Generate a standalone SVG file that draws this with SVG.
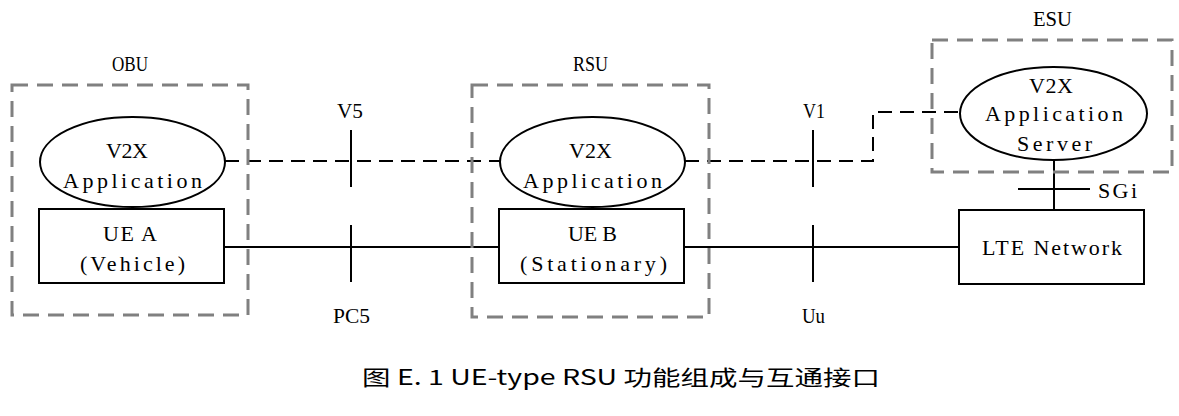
<svg xmlns="http://www.w3.org/2000/svg" width="1179" height="416" viewBox="0 0 1179 416">
<style>
.grp{fill:none;stroke:#808080;stroke-width:3;stroke-dasharray:16 9}
.sh{fill:#fff;stroke:#000;stroke-width:2}
.ln{fill:none;stroke:#000;stroke-width:2}
.dl{fill:none;stroke:#000;stroke-width:2;stroke-dasharray:14 8}
.t{font-family:"Liberation Serif","Noto Serif CJK SC",serif;font-size:22px;fill:#000}
.cap{font-family:"Noto Sans CJK SC","Noto Sans",sans-serif;font-size:21px;fill:#000}
</style>
<rect width="1179" height="416" fill="#fff"/>
<g id="connectors">
<polyline class="dl" points="225,161 500,161"/>
<polyline class="dl" points="685,161 873,161 873,112 960,112"/>
<line class="ln" x1="224" y1="247" x2="499" y2="247"/>
<line class="ln" x1="684" y1="247" x2="959" y2="247"/>
<line class="ln" x1="1054" y1="160" x2="1054" y2="210"/>
<line class="ln" x1="351" y1="130" x2="351" y2="187"/>
<line class="ln" x1="351" y1="225" x2="351" y2="282"/>
<line class="ln" x1="813" y1="130" x2="813" y2="187"/>
<line class="ln" x1="813" y1="225" x2="813" y2="282"/>
<line class="ln" x1="1018" y1="189" x2="1090" y2="189"/>
<text class="t" x="337" y="118" textLength="26" lengthAdjust="spacingAndGlyphs">V5</text>
<text class="t" x="333" y="323" textLength="37" lengthAdjust="spacingAndGlyphs">PC5</text>
<text class="t" x="803" y="118" textLength="22" lengthAdjust="spacingAndGlyphs">V1</text>
<text class="t" x="802" y="323" textLength="23" lengthAdjust="spacingAndGlyphs">Uu</text>
<text class="t" x="1098" y="198" textLength="39">SGi</text>
</g>
<g id="obu">
<rect class="grp" x="12" y="85" width="236" height="230"/>
<text class="t" x="112" y="71" textLength="36" lengthAdjust="spacingAndGlyphs">OBU</text>
</g>
<g id="obu-app">
<ellipse class="sh" cx="132.5" cy="162" rx="92.5" ry="45"/>
<text class="t" x="106" y="158" textLength="42">V2X</text>
<text class="t" x="63" y="188" textLength="139">Application</text>
</g>
<g id="ue-a">
<rect class="sh" x="39" y="209" width="185" height="74"/>
<text class="t" x="103" y="241" textLength="54">UE A</text>
<text class="t" x="80" y="271" textLength="105">(Vehicle)</text>
</g>
<g id="rsu">
<rect class="grp" x="472" y="85" width="237" height="232"/>
<text class="t" x="573" y="71" textLength="35" lengthAdjust="spacingAndGlyphs">RSU</text>
</g>
<g id="rsu-app">
<ellipse class="sh" cx="592.5" cy="162" rx="92.5" ry="45"/>
<text class="t" x="569" y="158" textLength="43">V2X</text>
<text class="t" x="523" y="188" textLength="139">Application</text>
</g>
<g id="ue-b">
<rect class="sh" x="499" y="209" width="185" height="74"/>
<text class="t" x="568" y="241" textLength="49">UE B</text>
<text class="t" x="520" y="271" textLength="147">(Stationary)</text>
</g>
<g id="esu">
<rect class="grp" x="932" y="40" width="240" height="132"/>
<text class="t" x="1033" y="26" textLength="39" lengthAdjust="spacingAndGlyphs">ESU</text>
</g>
<g id="app-server">
<ellipse class="sh" cx="1053.5" cy="113.5" rx="93.5" ry="46.5"/>
<text class="t" x="1029" y="93" textLength="44">V2X</text>
<text class="t" x="985" y="121" textLength="138">Application</text>
<text class="t" x="1017" y="151" textLength="75">Server</text>
</g>
<g id="lte">
<rect class="sh" x="959" y="210" width="185" height="74"/>
<text class="t" x="982" y="255" textLength="140">LTE Network</text>
</g>
<text class="cap" x="362" y="385" textLength="518" lengthAdjust="spacingAndGlyphs">图 E. 1 UE-type RSU 功能组成与互通接口</text>
</svg>
